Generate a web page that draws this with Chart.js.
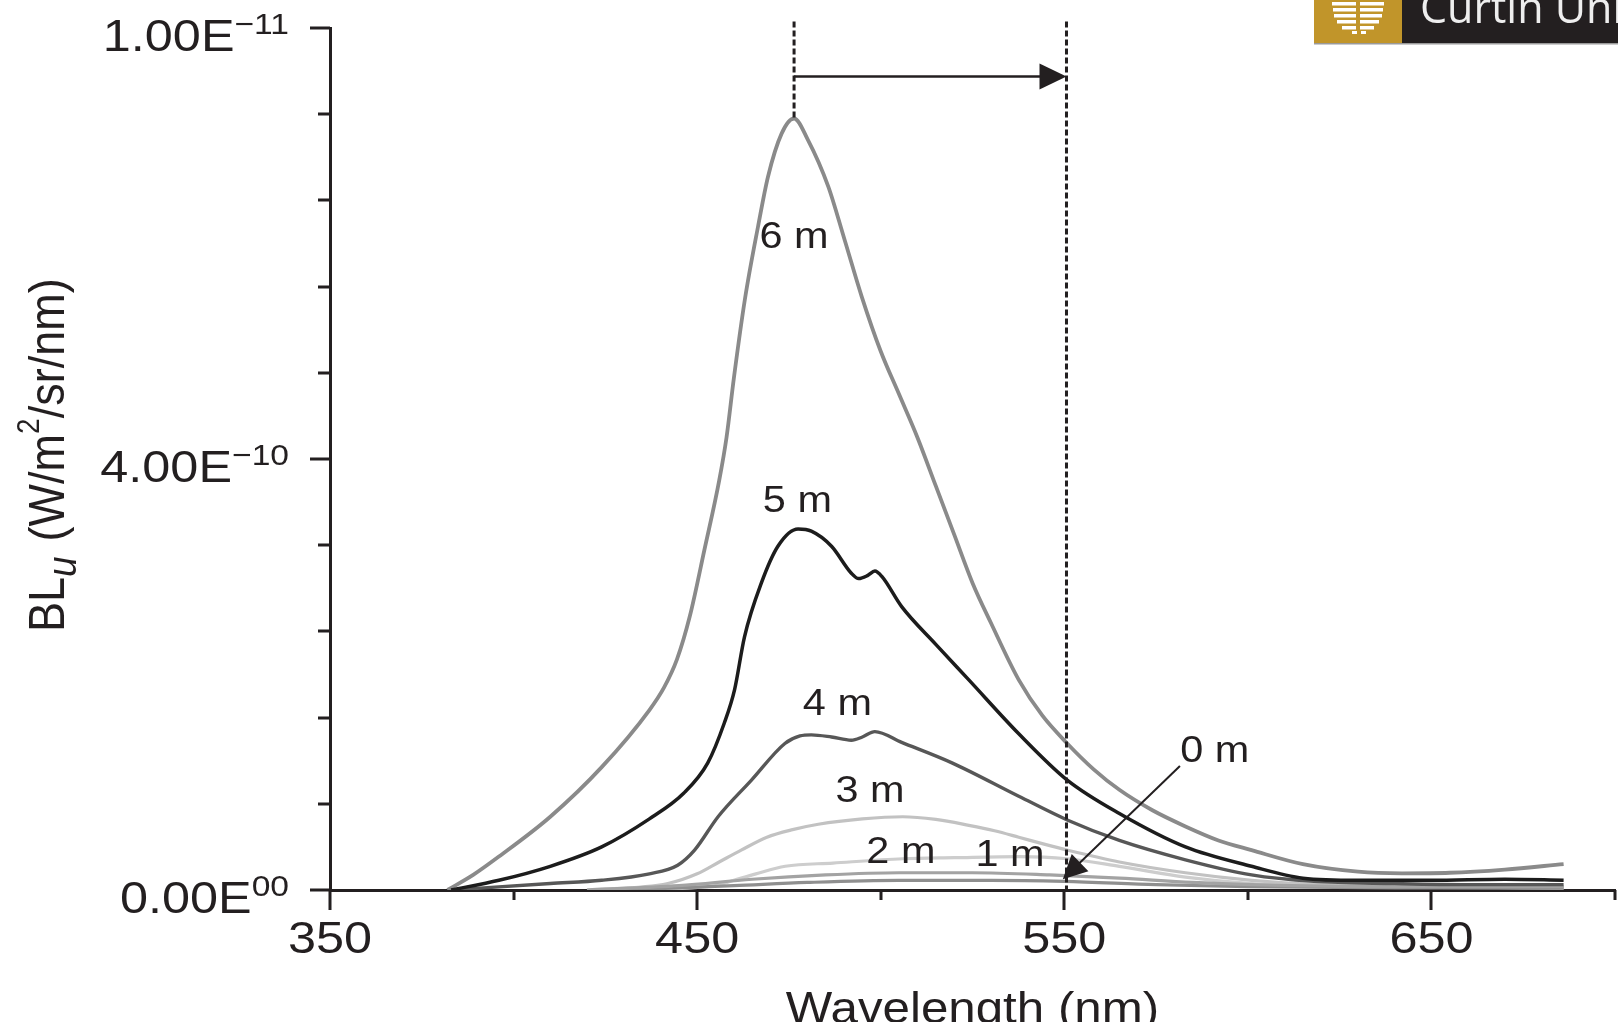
<!DOCTYPE html>
<html>
<head>
<meta charset="utf-8">
<script src="https://cdn.jsdelivr.net/npm/chart.js@4.4.1/dist/chart.umd.min.js"></script>
<style>
  html, body { margin: 0; padding: 0; background: #fff; overflow: hidden; }
</style>
</head>
<body>
<canvas id="spectra" width="1618" height="1022"></canvas>
<script>
// Wavelength (nm) and BLu values (in units of 1e-10 W/m2/sr/nm)
const wl6 = [382, 389, 396, 410, 424, 437, 441, 444.5, 448, 452, 456, 458, 460, 463, 466.6, 469.3, 473, 476.4, 480.2, 485.7, 490.2, 494.8, 500, 505, 510, 515, 520, 525, 530, 537.6, 544, 550.8, 558, 565, 574, 583, 592, 601, 615, 630, 642, 655, 670, 686];
const bl6 = [0, 0.14, 0.31, 0.68, 1.14, 1.67, 1.88, 2.14, 2.54, 3.16, 3.80, 4.2, 4.75, 5.48, 6.16, 6.62, 7.02, 7.16, 6.96, 6.53, 6.03, 5.51, 5.0, 4.6, 4.2, 3.75, 3.3, 2.85, 2.48, 1.95, 1.62, 1.36, 1.12, 0.93, 0.74, 0.59, 0.46, 0.37, 0.24, 0.17, 0.155, 0.16, 0.19, 0.24];

const wl5 = [383, 396, 410, 424, 437, 446.4, 452.9, 457.4, 460.2, 462.9, 467.5, 472, 477.5, 481.1, 486.6, 492, 494, 496.5, 498.4, 500.3, 505.7, 515, 524, 537.6, 550.8, 565, 583, 601, 615, 630, 650, 670, 686];
const bl5 = [0, 0.09, 0.22, 0.40, 0.66, 0.90, 1.18, 1.55, 1.86, 2.35, 2.85, 3.19, 3.35, 3.33, 3.19, 2.94, 2.89, 2.92, 2.96, 2.91, 2.63, 2.28, 1.95, 1.45, 1.02, 0.71, 0.40, 0.22, 0.11, 0.09, 0.09, 0.10, 0.09];

const wl4 = [383, 410, 424, 437, 444.7, 449.3, 455.7, 464.8, 473.9, 478, 481.1, 486.6, 492, 495, 498.4, 505.7, 519.4, 537.6, 550.8, 565, 583, 601, 618, 640, 660, 686];
const bl4 = [0, 0.06, 0.09, 0.15, 0.23, 0.37, 0.68, 1.02, 1.36, 1.43, 1.44, 1.42, 1.39, 1.42, 1.47, 1.37, 1.18, 0.87, 0.65, 0.46, 0.28, 0.14, 0.08, 0.06, 0.05, 0.05];

const wl3 = [420, 442, 450, 456, 462, 469, 476, 483, 495, 506, 515, 524, 531, 537.6, 544, 550.8, 565, 583, 601, 620, 650, 686];
const bl3 = [0, 0.06, 0.15, 0.26, 0.37, 0.49, 0.56, 0.61, 0.66, 0.68, 0.655, 0.60, 0.55, 0.49, 0.43, 0.37, 0.26, 0.16, 0.09, 0.05, 0.03, 0.02];

const wl2 = [430, 455, 460, 466, 474, 487, 506, 520, 537.6, 550.8, 565, 583, 601, 630, 686];
const bl2 = [0, 0.04, 0.09, 0.15, 0.22, 0.25, 0.29, 0.30, 0.31, 0.29, 0.22, 0.12, 0.06, 0.03, 0.02];

const wl1 = [420, 445, 465, 485, 505, 525, 546, 565, 585, 601, 640, 686];
const bl1 = [0, 0.04, 0.10, 0.14, 0.16, 0.16, 0.14, 0.11, 0.07, 0.05, 0.03, 0.03];

const wl0 = [430, 460, 480, 505, 530, 550, 575, 600, 640, 686];
const bl0 = [0, 0.04, 0.07, 0.09, 0.09, 0.08, 0.05, 0.03, 0.02, 0.02];

// Axis ticks and labels
const xTickValues = [350, 450, 550, 650];
const yTickValues = [0, 4, 8];
const yTickMant = ['0.00E', '4.00E', '1.00E'];
const yTickExp = ['00', '\u221210', '\u221211'];

// Depth labels placed next to the curves (wavelength, value at text baseline)
const depthText = ['6 m', '5 m', '4 m', '3 m', '2 m', '1 m', '0 m'];
const depthWl = [476.4, 477.3, 488.2, 497.1, 505.5, 535.2, 591.0];
const depthVal = [5.96, 3.51, 1.62, 0.82, 0.25, 0.22, 1.19];

// Peak shift marker and the pointer for 0 m
const shiftTo = 550.6;
const pointerFrom = [581.5, 1.15];
const pointerTo = [549.6, 0.10];

const INK = '#231f20';
const SX = 1.12; // the figure's text is a little wider than tall
const FONT = '"Liberation Sans", Arial, sans-serif';

function pts(xs, ys) { return xs.map((x, i) => ({ x: x, y: ys[i] })); }

// draw runs of text (main + super/subscripts)
function textRun(ctx, parts, align) {
  let total = 0;
  parts.forEach(p => {
    ctx.font = (p.italic ? 'italic ' : '') + p.size + 'px ' + FONT;
    p.w = ctx.measureText(p.t).width;
    total += p.w + (p.gap || 0);
  });
  let cur = align === 'right' ? -total : align === 'center' ? -total / 2 : 0;
  parts.forEach(p => {
    ctx.font = (p.italic ? 'italic ' : '') + p.size + 'px ' + FONT;
    ctx.fillText(p.t, cur, p.dy || 0);
    cur += p.w + (p.gap || 0);
  });
}

const figurePlugin = {
  id: 'figure',
  afterDatasetsDraw(chart) {
    const ctx = chart.ctx;
    const x = chart.scales.x, y = chart.scales.y;
    const area = chart.chartArea;
    ctx.save();
    ctx.strokeStyle = INK;
    ctx.fillStyle = INK;
    ctx.textAlign = 'left';
    ctx.textBaseline = 'alphabetic';

    // tick marks
    ctx.lineWidth = 3;
    ctx.beginPath();
    for (let i = 0; i <= 10; i++) {
      const py = Math.round(y.getPixelForValue(i * 0.8));
      const len = i % 5 === 0 ? 20 : 12;
      ctx.moveTo(area.left - len, py);
      ctx.lineTo(area.left, py);
    }
    for (let w = 350; w <= 700; w += 50) {
      const px = Math.round(x.getPixelForValue(w));
      const len = (w - 350) % 100 === 0 ? 20 : 10;
      ctx.moveTo(px, area.bottom);
      ctx.lineTo(px, area.bottom + len);
    }
    ctx.stroke();

    // y tick labels
    yTickValues.forEach((v, i) => {
      ctx.save();
      ctx.translate(289, y.getPixelForValue(v) + 23);
      ctx.scale(SX, 1);
      textRun(ctx, [{ t: yTickMant[i], size: 45 }, { t: yTickExp[i], size: 30, dy: -17 }], 'right');
      ctx.restore();
    });

    // x tick labels
    xTickValues.forEach(v => {
      ctx.save();
      ctx.translate(x.getPixelForValue(v), area.bottom + 63);
      ctx.scale(SX, 1);
      textRun(ctx, [{ t: String(v), size: 45 }], 'center');
      ctx.restore();
    });

    // x title
    ctx.save();
    ctx.translate((area.left + area.right) / 2, area.bottom + 133);
    ctx.scale(SX, 1);
    textRun(ctx, [{ t: 'Wavelength (nm)', size: 44 }], 'center');
    ctx.restore();

    // y title
    ctx.save();
    ctx.translate(64, 632);
    ctx.rotate(-Math.PI / 2);
    ctx.scale(1, SX);
    textRun(ctx, [
      { t: 'BL', size: 45 },
      { t: 'u', size: 37, dy: 11, italic: true, gap: 15 },
      { t: '(W/m', size: 45 },
      { t: '2', size: 28, dy: -22 },
      { t: '/sr/nm)', size: 45 }
    ], 'left');
    ctx.restore();

    // depth labels
    depthText.forEach((t, i) => {
      ctx.save();
      ctx.translate(x.getPixelForValue(depthWl[i]), y.getPixelForValue(depthVal[i]));
      ctx.scale(SX, 1);
      textRun(ctx, [{ t: t, size: 37 }], 'center');
      ctx.restore();
    });

    // dashed verticals at the 6 m peak and at the shifted wavelength
    let iPeak = 0;
    bl6.forEach((v, i) => { if (v > bl6[iPeak]) iPeak = i; });
    const peakX = x.getPixelForValue(wl6[iPeak]);
    const peakY = y.getPixelForValue(bl6[iPeak]);
    const shiftX = x.getPixelForValue(shiftTo);
    const topY = y.getPixelForValue(8.06);
    ctx.lineWidth = 3;
    ctx.setLineDash([6, 3]);
    ctx.beginPath();
    ctx.moveTo(peakX, topY); ctx.lineTo(peakX, peakY);
    ctx.moveTo(shiftX, topY); ctx.lineTo(shiftX, area.bottom);
    ctx.stroke();
    ctx.setLineDash([]);

    // shift arrow
    const ay = y.getPixelForValue(7.55);
    ctx.lineWidth = 2.5;
    ctx.beginPath();
    ctx.moveTo(peakX, ay); ctx.lineTo(shiftX - 20, ay);
    ctx.stroke();
    ctx.beginPath();
    ctx.moveTo(shiftX, ay);
    ctx.lineTo(shiftX - 27, ay - 13);
    ctx.lineTo(shiftX - 27, ay + 13);
    ctx.closePath();
    ctx.fill();

    // pointer from "0 m" label
    const fx = x.getPixelForValue(pointerFrom[0]), fy = y.getPixelForValue(pointerFrom[1]);
    const tx = x.getPixelForValue(pointerTo[0]), ty = y.getPixelForValue(pointerTo[1]);
    const ang = Math.atan2(ty - fy, tx - fx);
    ctx.lineWidth = 2;
    ctx.beginPath();
    ctx.moveTo(fx, fy);
    ctx.lineTo(tx - 15 * Math.cos(ang), ty - 15 * Math.sin(ang));
    ctx.stroke();
    ctx.beginPath();
    ctx.moveTo(tx, ty);
    ctx.lineTo(tx - 24 * Math.cos(ang) + 12 * Math.sin(ang), ty - 24 * Math.sin(ang) - 12 * Math.cos(ang));
    ctx.lineTo(tx - 24 * Math.cos(ang) - 12 * Math.sin(ang), ty - 24 * Math.sin(ang) + 12 * Math.cos(ang));
    ctx.closePath();
    ctx.fill();

    // university logo strip, top right
    ctx.fillStyle = '#c1952a';
    ctx.fillRect(1314, 0, 88, 43);
    ctx.fillStyle = '#231f20';
    ctx.fillRect(1402, 0, 216, 43);
    ctx.fillStyle = '#9a9a9a';
    ctx.fillRect(1314, 43, 304, 1.5);
    ctx.fillStyle = '#ffffff';
    [[2, 52], [8, 50], [14, 48], [20, 42], [26, 32]].forEach(s => {
      ctx.fillRect(1358 - s[1] / 2, s[0], s[1] / 2 - 2, 3.5);
      ctx.fillRect(1360, s[0], s[1] / 2 - 2, 3.5);
    });
    ctx.fillRect(1352, 31, 5, 3);
    ctx.fillRect(1361, 31, 5, 3);
    ctx.fillStyle = '#eeeeee';
    ctx.font = '43px "Open Sans", "Noto Sans", sans-serif';
    ctx.fillText('Curtin Uni', 1420, 23);

    ctx.restore();
  }
};

function series(xs, ys, color, width) {
  return {
    data: pts(xs, ys),
    borderColor: color,
    borderWidth: width,
    pointRadius: 0,
    fill: false,
    cubicInterpolationMode: 'monotone'
  };
}

new Chart(document.getElementById('spectra'), {
  type: 'line',
  data: {
    datasets: [
      series(wl5, bl5, '#1c1c1c', 3.5),
      series(wl6, bl6, '#8a8a8a', 3.8),
      series(wl4, bl4, '#575757', 3.4),
      series(wl1, bl1, '#a3a3a3', 3.2),
      series(wl0, bl0, '#8f8f8f', 3.2),
      series(wl2, bl2, '#cdcdcd', 3.2),
      series(wl3, bl3, '#c2c2c2', 3.2)
    ]
  },
  options: {
    responsive: false,
    animation: false,
    devicePixelRatio: 1,
    layout: { padding: { left: 0, right: 3, top: 28, bottom: 0 } },
    plugins: { legend: { display: false }, tooltip: { enabled: false } },
    scales: {
      x: {
        type: 'linear',
        min: 350,
        max: 700,
        grid: { display: false, drawTicks: false },
        border: { display: true, color: INK, width: 3 },
        ticks: { display: false },
        afterFit: function (scale) { scale.height = 132; }
      },
      y: {
        type: 'linear',
        min: 0,
        max: 8,
        grid: { display: false, drawTicks: false },
        border: { display: true, color: INK, width: 3 },
        ticks: { display: false },
        afterFit: function (scale) { scale.width = 330; }
      }
    }
  },
  plugins: [figurePlugin]
});
</script>
</body>
</html>
